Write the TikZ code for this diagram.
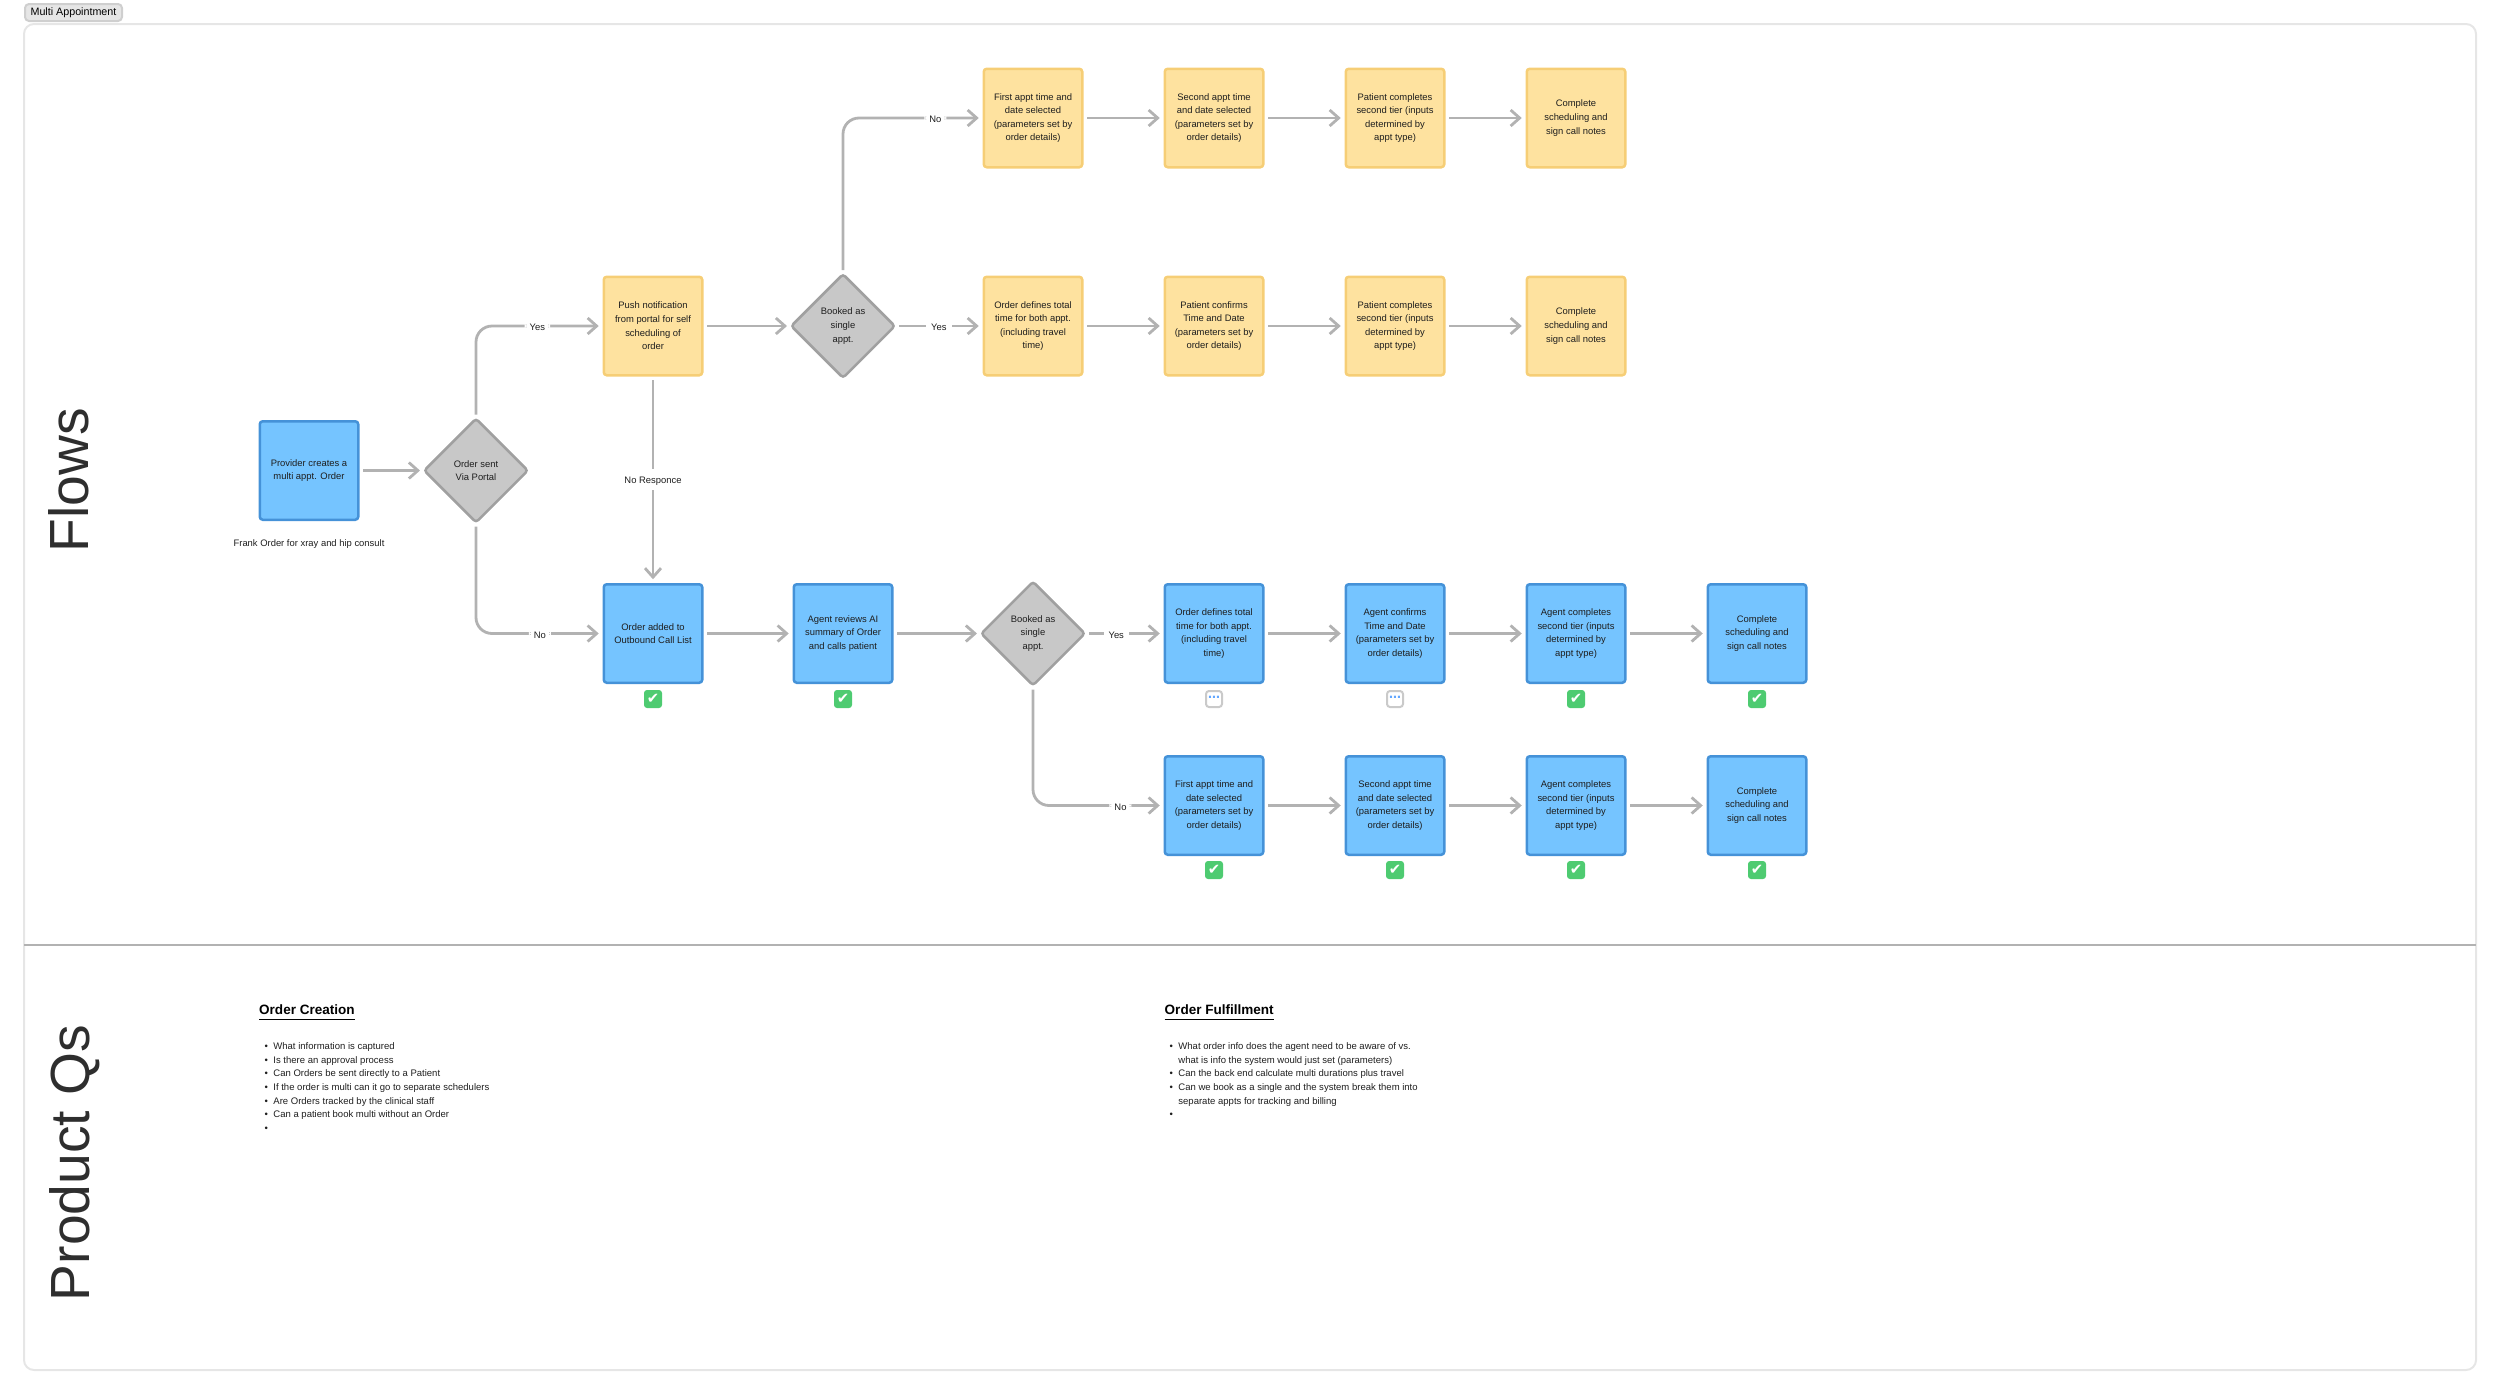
\documentclass[tikz,border=0pt]{standalone}
\usepackage{fontspec}
\setmainfont{Liberation Sans}
\newfontfamily\symfont{DejaVu Sans}
\usetikzlibrary{shapes.geometric,arrows.meta}
\definecolor{bluefill}{HTML}{75C4FF}
\definecolor{blueline}{HTML}{4592D8}
\definecolor{yellowfill}{HTML}{FEE29F}
\definecolor{yellowline}{HTML}{F6CE76}
\definecolor{grayfill}{HTML}{C8C8C8}
\definecolor{grayline}{HTML}{A0A0A0}
\definecolor{flowline}{HTML}{B2B2B2}
\definecolor{inktext}{HTML}{1E1E1E}
\definecolor{checkgreen}{HTML}{4ECB71}
\definecolor{framegray}{HTML}{E6E6E6}
\newcommand{\bul}{\makebox[0.087cm][l]{\textbullet}}
\tikzset{
    plaintext/.style={font=\fontsize{2.68pt}{3.87pt}\selectfont, text=inktext, align=center},
    boxtext/.style={plaintext, execute at begin node={\rule{0pt}{3.4pt}}},
    stepbox/.style={rectangle, boxtext, line width=0.025cm, rounded corners=0.03cm, minimum width=0.985cm, minimum height=0.985cm, inner sep=0pt, outer sep=0.05cm},
    agent/.style={stepbox, draw=blueline, fill=bluefill},
    patient/.style={stepbox, draw=yellowline, fill=yellowfill},
    decision/.style={diamond, aspect=1, boxtext, draw=grayline, fill=grayfill, line width=0.025cm, rounded corners=0.03cm, minimum width=1.06cm, minimum height=1.06cm, inner sep=0pt, outer sep=0.03cm},
    flow/.style={-{Straight Barb[length=0.09cm, width=0.16cm]}, line width=0.028cm, flowline},
    elbow/.style={flow, rounded corners=0.16cm},
    edgelabel/.style={plaintext, execute at begin node={\rule{0pt}{2.6pt}}, fill=white, inner sep=0.05cm},
    done/.style={rectangle, rounded corners=0.03cm, fill=checkgreen, minimum size=0.18cm, inner sep=0pt, text=white, font=\symfont\fontsize{4.2pt}{4.2pt}\selectfont},
    pending/.style={rectangle, rounded corners=0.03cm, draw=framegray!88!black, fill=white, line width=0.02cm, minimum size=0.16cm, inner sep=0pt, text=bluefill!85!blue, font=\symfont\bfseries\fontsize{3.4pt}{3.4pt}\selectfont},
    bigtitle/.style={rotate=90, text=black!82, font=\fontsize{15.7pt}{16pt}\selectfont},
    heading/.style={anchor=west, inner sep=0pt, text=black, font=\bfseries\fontsize{3.85pt}{4.5pt}\selectfont},
    notes/.style={anchor=north west, align=left, inner sep=0pt, text=inktext, font=\fontsize{2.71pt}{3.87pt}\selectfont}
}

\begin{document}
\begin{tikzpicture}
\useasboundingbox (0,0) rectangle (25,-13.94);

% Frame and tag
\draw[framegray, line width=0.02cm, rounded corners=0.1cm] (0.24,-0.24) rectangle (24.76,-13.70);
\node[rectangle, draw=framegray!90!black, fill=framegray, line width=0.02cm, rounded corners=0.04cm, text=black, font=\fontsize{3.05pt}{3.4pt}\selectfont, minimum width=0.97cm, minimum height=0.17cm, inner sep=0pt] (tag) at (0.735,-0.125) {Multi Appointment};
\coordinate (divleft) at (0.24,-9.45);
\coordinate (divright) at (24.76,-9.45);
\draw[flowline, line width=0.025cm] (divleft) -- (divright);

% Section titles
\node[bigtitle] (flows) at (0.69,-4.80) {Flows};
\node[bigtitle] (productqs) at (0.75,-11.63) {Product Qs};

% Entry
\node[agent] (provider) at (3.09,-4.705) {Provider creates a\\multi appt. Order};
\node[plaintext] (frank) at (3.09,-5.445) {Frank Order for xray and hip consult};
\node[decision] (portal) at (4.76,-4.705) {Order sent\\Via Portal};

% Patient self scheduling
\node[patient] (push) at (6.53,-3.26) {Push notification\\from portal for self\\scheduling of\\order};
\node[decision] (selfsingle) at (8.43,-3.26) {Booked as\\single\\appt.};

\node[patient] (selfa) at (10.33,-1.18) {First appt time and\\date selected\\(parameters set by\\order details)};
\node[patient] (selfb) at (12.14,-1.18) {Second appt time\\and date selected\\(parameters set by\\order details)};
\node[patient] (selfc) at (13.95,-1.18) {Patient completes\\second tier (inputs\\determined by\\appt type)};
\node[patient] (selfd) at (15.76,-1.18) {Complete\\scheduling and\\sign call notes};

\node[patient] (bothx) at (10.33,-3.26) {Order defines total\\time for both appt.\\(including travel\\time)};
\node[patient] (bothy) at (12.14,-3.26) {Patient confirms\\Time and Date\\(parameters set by\\order details)};
\node[patient] (bothz) at (13.95,-3.26) {Patient completes\\second tier (inputs\\determined by\\appt type)};
\node[patient] (bothw) at (15.76,-3.26) {Complete\\scheduling and\\sign call notes};

% Agent scheduling
\node[agent] (outbound) at (6.53,-6.335) {Order added to\\Outbound Call List};
\node[agent] (review) at (8.43,-6.335) {Agent reviews AI\\summary of Order\\and calls patient};
\node[decision] (agentsingle) at (10.33,-6.335) {Booked as\\single\\appt.};

\node[agent] (agentx) at (12.14,-6.335) {Order defines total\\time for both appt.\\(including travel\\time)};
\node[agent] (agenty) at (13.95,-6.335) {Agent confirms\\Time and Date\\(parameters set by\\order details)};
\node[agent] (agentz) at (15.76,-6.335) {Agent completes\\second tier (inputs\\determined by\\appt type)};
\node[agent] (agentw) at (17.57,-6.335) {Complete\\scheduling and\\sign call notes};

\node[agent] (agenta) at (12.14,-8.055) {First appt time and\\date selected\\(parameters set by\\order details)};
\node[agent] (agentb) at (13.95,-8.055) {Second appt time\\and date selected\\(parameters set by\\order details)};
\node[agent] (agentc) at (15.76,-8.055) {Agent completes\\second tier (inputs\\determined by\\appt type)};
\node[agent] (agentd) at (17.57,-8.055) {Complete\\scheduling and\\sign call notes};

% Status marks
\node[done] (markoutbound) at (6.53,-6.99) {✔};
\node[done] (markreview) at (8.43,-6.99) {✔};
\node[pending] (markx) at (12.14,-6.99) {⋯};
\node[pending] (marky) at (13.95,-6.99) {⋯};
\node[done] (markz) at (15.76,-6.99) {✔};
\node[done] (markw) at (17.57,-6.99) {✔};
\node[done] (marka) at (12.14,-8.70) {✔};
\node[done] (markb) at (13.95,-8.70) {✔};
\node[done] (markc) at (15.76,-8.70) {✔};
\node[done] (markd) at (17.57,-8.70) {✔};

% Connectors
\draw[flow] (provider) -- (portal);
\draw[elbow] (portal.north) |- (push.west) node[edgelabel, pos=0.75] (yesportal) {Yes};
\draw[elbow] (portal.south) |- (outbound.west) node[edgelabel, pos=0.76] (noportal) {No};
\draw[flow] (push) -- (outbound) node[edgelabel, midway] (noresponse) {No Responce};
\draw[flow] (push) -- (selfsingle);
\draw[elbow] (selfsingle.north) |- (selfa.west) node[edgelabel, pos=0.84] (noself) {No};
\draw[flow] (selfsingle) -- (bothx) node[edgelabel, midway] (yesself) {Yes};
\draw[flow] (selfa) -- (selfb);
\draw[flow] (selfb) -- (selfc);
\draw[flow] (selfc) -- (selfd);
\draw[flow] (bothx) -- (bothy);
\draw[flow] (bothy) -- (bothz);
\draw[flow] (bothz) -- (bothw);
\draw[flow] (outbound) -- (review);
\draw[flow] (review) -- (agentsingle);
\draw[flow] (agentsingle) -- (agentx) node[edgelabel, pos=0.385] (yesagent) {Yes};
\draw[elbow] (agentsingle.south) |- (agenta.west) node[edgelabel, pos=0.845] (noagent) {No};
\draw[flow] (agentx) -- (agenty);
\draw[flow] (agenty) -- (agentz);
\draw[flow] (agentz) -- (agentw);
\draw[flow] (agenta) -- (agentb);
\draw[flow] (agentb) -- (agentc);
\draw[flow] (agentc) -- (agentd);

% Questions
\node[heading] (creation) at (2.585,-10.13) {\underline{Order Creation}};
\node[notes] (creationlist) at (2.64,-10.42) {\bul What information is captured\\\bul Is there an approval process\\\bul Can Orders be sent directly to a Patient\\\bul If the order is multi can it go to separate schedulers\\\bul Are Orders tracked by the clinical staff\\\bul Can a patient book multi without an Order\\\bul};
\node[heading] (fulfillment) at (11.64,-10.13) {\underline{Order Fulfillment}};
\node[notes] (fulfillmentlist) at (11.69,-10.42) {\bul What order info does the agent need to be aware of vs.\\\hspace*{0.087cm}what is info the system would just set (parameters)\\\bul Can the back end calculate multi durations plus travel\\\bul Can we book as a single and the system break them into\\\hspace*{0.087cm}separate appts for tracking and billing\\\bul};
\end{tikzpicture}
\end{document}
